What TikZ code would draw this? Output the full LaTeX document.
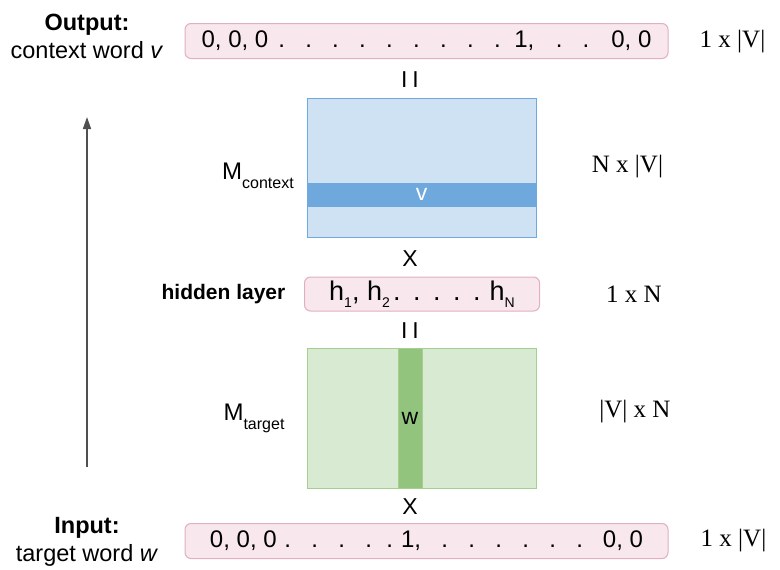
\documentclass[tikz,border=0pt]{standalone}
\usepackage{fontspec}
\setmainfont{Liberation Sans}
\newfontfamily\dimfont{Liberation Serif}
\usetikzlibrary{arrows.meta}
\definecolor{vecfill}{RGB}{248,232,238}
\definecolor{vecline}{RGB}{226,174,196}
\definecolor{ctxfill}{RGB}{207,226,243}
\definecolor{ctxline}{RGB}{111,168,220}
\definecolor{tgtfill}{RGB}{217,234,211}
\definecolor{tgtline}{RGB}{165,207,145}
\definecolor{tgtband}{RGB}{147,196,125}
\definecolor{arrowcolor}{RGB}{80,80,80}
\newcommand{\spdot}[1][20.3pt]{\hspace{#1}.}
\newcommand{\lowsub}[3][7pt]{\raisebox{-#1}{\fontsize{#2}{#2}\selectfont #3}}

\begin{document}
\begin{tikzpicture}[
    x=1pt, y=-1pt,
    vec/.style={draw=vecline, fill=vecfill, line width=1pt, rounded corners=6pt, minimum width=483pt, minimum height=35pt, inner sep=0pt, font=\fontsize{24}{24}\selectfont},
    hid/.style={vec, minimum width=235pt, minimum height=34pt, font=\fontsize{27}{27}\selectfont},
    ctxmat/.style={draw=ctxline, fill=ctxfill, line width=1pt, minimum width=229pt, minimum height=139pt, inner sep=0pt},
    ctxrow/.style={draw=ctxline, fill=ctxline, line width=0.6pt, minimum width=229pt, minimum height=23pt, inner sep=0pt, text=white, font=\fontsize{23}{23}\selectfont},
    tgtmat/.style={draw=tgtline, fill=tgtfill, line width=1pt, minimum width=229pt, minimum height=140pt, inner sep=0pt},
    tgtcol/.style={draw=tgtline, fill=tgtband, line width=0.6pt, minimum width=24pt, minimum height=140pt, inner sep=0pt, font=\fontsize{23}{23}\selectfont},
    lbl/.style={align=center, inner sep=0pt, font=\fontsize{23.5}{28}\selectfont},
    matlbl/.style={inner sep=0pt, font=\fontsize{24}{24}\selectfont},
    dim/.style={inner sep=0pt, font=\dimfont\fontsize{25}{25}\selectfont},
    op/.style={inner sep=0pt, font=\fontsize{23}{23}\selectfont},
    uparrow/.style={-{Triangle[length=12pt, width=8pt]}, line width=1.5pt, arrowcolor}
]
    \useasboundingbox (0,0) rectangle (780,570);

    % Output vector
    \node[vec] (outvec) at (426.5,41) {0, 0, 0\hspace{10pt}.\spdot\spdot\spdot\spdot\spdot\spdot\spdot\spdot\hspace{13.6pt}1,\hspace{21.4pt}.\spdot\hspace{22pt}0, 0};
    \node[lbl] (outlbl) at (87,36) {\textbf{Output:}\\context word \textit{v}};
    \node[dim] (outdim) at (732.5,42) {1 x |V|};
    \node[op] (eqtop) at (410,80) {I\hspace{5pt}I};

    % Context matrix
    \node[ctxmat] (ctx) at (421.5,167.5) {};
    \node[ctxrow] (ctxv) at (421.5,194.5) {v};
    \node[matlbl] (ctxlbl) at (258,176) {M\lowsub[9pt]{16}{context}};
    \node[dim] (ctxdim) at (627.5,167) {N x |V|};
    \node[op] (xtop) at (410,259) {X};

    % Hidden layer
    \node[hid] (hidden) at (422,294) {h\lowsub{14}{1}, h\lowsub{14}{2}\hspace{3.3pt}.\spdot[12.5pt]\spdot[12.5pt]\spdot[12.5pt]\spdot[12.5pt]\hspace{9pt}h\lowsub{14}{N}};
    \node[lbl, font=\bfseries\fontsize{21}{21}\selectfont] (hidlbl) at (223.5,294) {hidden layer};
    \node[dim] (hiddim) at (634,294) {1 x N};
    \node[op] (eqmid) at (410,331) {I\hspace{5pt}I};

    % Target matrix
    \node[tgtmat] (tgt) at (421.5,418) {};
    \node[tgtcol] (tgtw) at (410,418) {w};
    \node[matlbl] (tgtlbl) at (254,418) {M\lowsub[9pt]{16}{target}};
    \node[dim] (tgtdim) at (635,412) {|V| x N};
    \node[op] (xbot) at (410,507) {X};

    % Input vector
    \node[vec] (invec) at (426.5,541) {0, 0, 0\hspace{7.7pt}.\spdot\spdot\spdot\hspace{14.4pt}.\hspace{8pt}1,\hspace{20.4pt}.\spdot\spdot\spdot\spdot\spdot\hspace{20pt}0, 0};
    \node[lbl] (inlbl) at (87,542) {\textbf{Input:}\\target word \textit{w}};
    \node[dim] (indim) at (733.5,541) {1 x |V|};

    % Direction of flow
    \coordinate (flowtail) at (87,467);
    \coordinate (flowhead) at (87,117);
    \draw[uparrow] (flowtail) -- (flowhead);

\end{tikzpicture}
\end{document}
